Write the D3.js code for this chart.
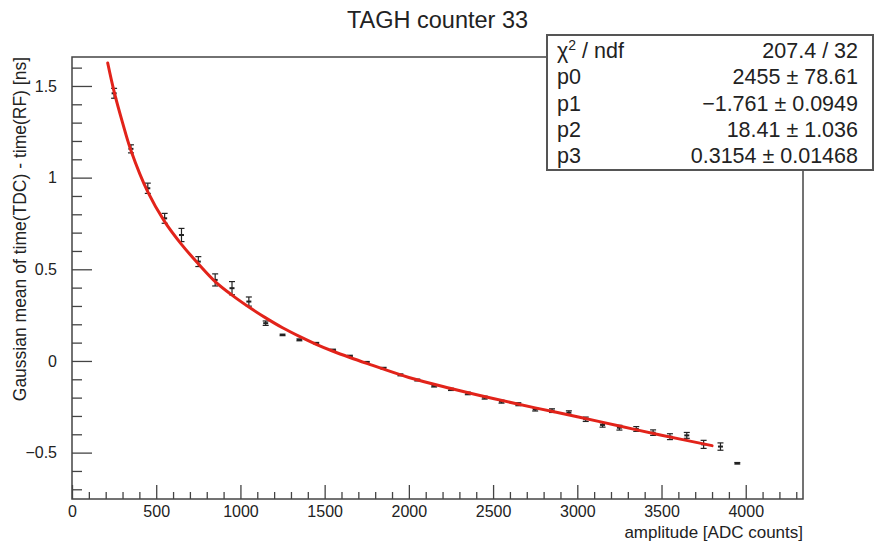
<!DOCTYPE html>
<html>
<head>
<meta charset="utf-8">
<script src="https://cdn.jsdelivr.net/npm/d3@7"></script>
<style>
  body { margin: 0; background: #fff; }
  svg { display: block; font-family: "Liberation Sans", Arial, sans-serif; }
</style>
</head>
<body>
<div id="chart"></div>
<script>
// TAGH counter 33 time-walk profile with fit

// bin centres [ADC counts]
const amplitudes = [250, 350, 450, 550, 650, 750, 850, 950, 1050, 1150, 1250, 1350, 1450, 1550,
  1650, 1750, 1850, 1950, 2050, 2150, 2250, 2350, 2450, 2550, 2650, 2750, 2850, 2950,
  3050, 3150, 3250, 3350, 3450, 3550, 3650, 3750, 3850, 3950];
// gaussian mean [ns]
const means = [1.460, 1.157, 0.942, 0.778, 0.687, 0.542, 0.442, 0.397, 0.324, 0.206, 0.142, 0.115,
  0.097, 0.060, 0.027, -0.007, -0.040, -0.076, -0.104, -0.136, -0.155, -0.177, -0.200, -0.222,
  -0.236, -0.264, -0.271, -0.282, -0.318, -0.349, -0.364, -0.371, -0.391, -0.413, -0.406,
  -0.455, -0.467, -0.558];
const errors = [0.027, 0.022, 0.028, 0.027, 0.036, 0.027, 0.033, 0.036, 0.025, 0.012, 0.004, 0.005,
  0.004, 0.004, 0.004, 0.004, 0.005, 0.005, 0.005, 0.006, 0.006, 0.007, 0.008, 0.008, 0.008,
  0.009, 0.010, 0.010, 0.012, 0.012, 0.013, 0.013, 0.015, 0.016, 0.016, 0.022, 0.020, 0.004];

// fit curve
const fitX = [212, 250, 300, 350, 450, 550, 650, 750, 850, 950, 1050, 1150, 1250, 1350, 1450,
  1550, 1650, 1750, 2000, 2250, 2500, 2750, 3000, 3250, 3500, 3800];
const fitY = [1.625, 1.469, 1.300, 1.148, 0.922, 0.760, 0.636, 0.530, 0.433, 0.359, 0.294, 0.235,
  0.181, 0.134, 0.091, 0.053, 0.019, -0.013, -0.090, -0.150, -0.205, -0.256, -0.304, -0.355, -0.405, -0.462];

const statLabels = ['χ2 / ndf', 'p0', 'p1', 'p2', 'p3'];
const statValues = ['207.4 / 32', '2455 ± 78.61', '−1.761 ± 0.0949', '18.41 ± 1.036', '0.3154 ± 0.01468'];

const xMajor = [0, 500, 1000, 1500, 2000, 2500, 3000, 3500, 4000];
const yMajor = [-0.5, 0, 0.5, 1, 1.5];

const width = 876, height = 546;
const margin = { top: 57, right: 73, bottom: 47, left: 72 };

const svg = d3.select('#chart').append('svg')
  .attr('width', width)
  .attr('height', height);

const x = d3.scaleLinear()
  .domain([0, 4340])
  .range([margin.left, width - margin.right]);

const y = d3.scaleLinear()
  .domain([-0.753, 1.658])
  .range([height - margin.bottom, margin.top]);

const axisColor = '#444';
const textColor = '#222';

// Frame
svg.append('rect')
  .attr('x', margin.left)
  .attr('y', margin.top)
  .attr('width', width - margin.left - margin.right)
  .attr('height', height - margin.top - margin.bottom)
  .attr('fill', 'none')
  .attr('stroke', axisColor)
  .attr('stroke-width', 1.5);

// X axis: minor then major ticks (pointing inward)
const xMinor = d3.range(0, 4341, 100).filter(v => v % 500 !== 0);
svg.append('g')
  .attr('transform', `translate(0,${height - margin.bottom})`)
  .call(d3.axisBottom(x).tickValues(xMinor).tickSize(-7).tickFormat(''))
  .call(g => g.select('.domain').remove());

svg.append('g')
  .attr('transform', `translate(0,${height - margin.bottom})`)
  .call(d3.axisBottom(x).tickValues(xMajor).tickSize(-14).tickPadding(7).tickFormat(d3.format('d')))
  .call(g => g.select('.domain').remove())
  .selectAll('text')
  .style('font-size', '16px')
  .attr('fill', textColor);

// Y axis
const yMinor = d3.range(-7, 17).map(v => v / 10).filter(v => Math.abs(v * 2 - Math.round(v * 2)) > 1e-9);
svg.append('g')
  .attr('transform', `translate(${margin.left},0)`)
  .call(d3.axisLeft(y).tickValues(yMinor).tickSize(-10).tickFormat(''))
  .call(g => g.select('.domain').remove());

svg.append('g')
  .attr('transform', `translate(${margin.left},0)`)
  .call(d3.axisLeft(y).tickValues(yMajor).tickSize(-20).tickPadding(15)
    .tickFormat(d => String(d).replace('-', '−')))
  .call(g => g.select('.domain').remove())
  .selectAll('text')
  .style('font-size', '16px')
  .attr('fill', textColor);

svg.selectAll('.tick line').attr('stroke', axisColor).attr('stroke-width', 1.3);

// Axis titles
svg.append('text')
  .attr('x', width - margin.right)
  .attr('y', 538)
  .attr('text-anchor', 'end')
  .style('font-size', '17px')
  .attr('fill', textColor)
  .text('amplitude [ADC counts]');

svg.append('text')
  .attr('transform', 'rotate(-90)')
  .attr('x', -margin.top)
  .attr('y', 26)
  .attr('text-anchor', 'end')
  .style('font-size', '17.5px')
  .attr('fill', textColor)
  .text('Gaussian mean of time(TDC) - time(RF) [ns]');

// Title
svg.append('text')
  .attr('x', (margin.left + width - margin.right) / 2)
  .attr('y', 28)
  .attr('text-anchor', 'middle')
  .style('font-size', '23.5px')
  .attr('fill', textColor)
  .text('TAGH counter 33');

// Data points with error bars
const points = amplitudes.map((a, i) => ({ a: a, m: means[i], e: errors[i] }));

const pts = svg.append('g').attr('stroke', '#222').attr('stroke-width', 1.2);
pts.selectAll('.err')
  .data(points)
  .enter().append('line')
  .attr('class', 'err')
  .attr('x1', d => x(d.a)).attr('x2', d => x(d.a))
  .attr('y1', d => y(d.m + d.e)).attr('y2', d => y(d.m - d.e));
pts.selectAll('.capTop')
  .data(points)
  .enter().append('line')
  .attr('class', 'capTop')
  .attr('x1', d => x(d.a) - 3).attr('x2', d => x(d.a) + 3)
  .attr('y1', d => y(d.m + d.e)).attr('y2', d => y(d.m + d.e));
pts.selectAll('.capBot')
  .data(points)
  .enter().append('line')
  .attr('class', 'capBot')
  .attr('x1', d => x(d.a) - 3).attr('x2', d => x(d.a) + 3)
  .attr('y1', d => y(d.m - d.e)).attr('y2', d => y(d.m - d.e));
svg.selectAll('.marker')
  .data(points)
  .enter().append('rect')
  .attr('class', 'marker')
  .attr('x', d => x(d.a) - 2.5)
  .attr('y', d => y(d.m) - 1)
  .attr('width', 5)
  .attr('height', 2)
  .attr('fill', '#222');

// Fit curve
const fitData = fitX.map((v, i) => [v, fitY[i]]);
svg.append('path')
  .datum(fitData)
  .attr('fill', 'none')
  .attr('stroke', '#e2231a')
  .attr('stroke-width', 3)
  .attr('stroke-linecap', 'round')
  .attr('d', d3.line().x(d => x(d[0])).y(d => y(d[1])).curve(d3.curveCatmullRom.alpha(0.5)));

// Stats box
const box = { x: 547, y: 35, w: 326, h: 135 };
svg.append('rect')
  .attr('x', box.x).attr('y', box.y)
  .attr('width', box.w).attr('height', box.h)
  .attr('fill', '#fff')
  .attr('stroke', '#555')
  .attr('stroke-width', 2);

const rowY = d3.scalePoint().domain(statLabels).range([58, 163]);

statLabels.forEach((lab, i) => {
  const t = svg.append('text')
    .attr('x', box.x + 10)
    .attr('y', rowY(lab))
    .style('font-size', '21.5px')
    .attr('fill', textColor);
  if (i === 0) {
    t.append('tspan').text('χ');
    t.append('tspan').attr('dy', -8).style('font-size', '14px').text('2');
    t.append('tspan').attr('dy', 8).text(' / ndf');
  } else {
    t.text(lab);
  }
  svg.append('text')
    .attr('x', box.x + box.w - 15)
    .attr('y', rowY(lab))
    .attr('text-anchor', 'end')
    .style('font-size', '21.5px')
    .attr('fill', textColor)
    .text(statValues[i]);
});
</script>
</body>
</html>
